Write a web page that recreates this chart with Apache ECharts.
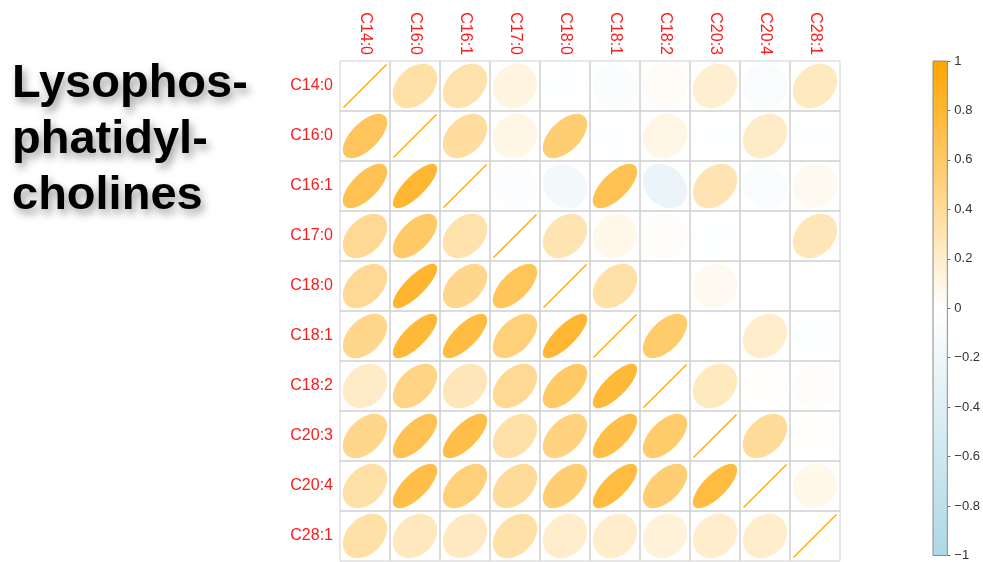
<!DOCTYPE html>
<html>
<head>
<meta charset="utf-8">
<script src="https://cdn.jsdelivr.net/npm/echarts@6/dist/echarts.min.js"></script>
<style>
  html, body { margin: 0; padding: 0; background: #fff; }
  #chart { width: 983px; height: 562px; }
</style>
</head>
<body>
<div id="chart"></div>
<script>
// Lipid species (rows and columns of the correlation matrix)
const species = ['C14:0', 'C16:0', 'C16:1', 'C17:0', 'C18:0', 'C18:1', 'C18:2', 'C20:3', 'C20:4', 'C28:1'];

// Correlation coefficients, one array per row (row species vs. each column species)
const rowC14_0 = [1.00, 0.35, 0.33, 0.12, -0.02, -0.06, 0.03, 0.18, -0.07, 0.25];
const rowC16_0 = [0.64, 1.00, 0.38, 0.10, 0.55, -0.03, 0.10, -0.02, 0.22, -0.01];
const rowC16_1 = [0.68, 0.80, 1.00, -0.05, -0.15, 0.68, -0.25, 0.30, -0.08, 0.06];
const rowC17_0 = [0.42, 0.60, 0.33, 1.00, 0.30, 0.08, 0.02, -0.02, 0.00, 0.28];
const rowC18_0 = [0.42, 0.82, 0.45, 0.65, 1.00, 0.35, 0.00, 0.06, 0.00, 0.00];
const rowC18_1 = [0.45, 0.78, 0.75, 0.52, 0.80, 1.00, 0.58, 0.00, 0.20, -0.03];
const rowC18_2 = [0.22, 0.48, 0.28, 0.42, 0.60, 0.78, 1.00, 0.25, 0.01, 0.02];
const rowC20_3 = [0.45, 0.68, 0.72, 0.35, 0.50, 0.72, 0.58, 1.00, 0.40, 0.01];
const rowC20_4 = [0.35, 0.72, 0.52, 0.40, 0.55, 0.75, 0.55, 0.75, 1.00, 0.08];
const rowC28_1 = [0.35, 0.26, 0.24, 0.35, 0.20, 0.20, 0.15, 0.20, 0.20, 1.00];

const corrRows = [rowC14_0, rowC16_0, rowC16_1, rowC17_0, rowC18_0, rowC18_1, rowC18_2, rowC20_3, rowC20_4, rowC28_1];

// Colour legend tick values
const legendMin = -1;
const legendMax = 1;
const legendStep = 0.2;

const NEG_COLOR = '#ADD8E6';
const MID_COLOR = '#FFFFFF';
const POS_COLOR = '#FFA500';

const cells = [];
corrRows.forEach((row, ri) => {
  row.forEach((r, ci) => cells.push([ci, ri, r]));
});

// Ellipse whose shape encodes the correlation: a circle at 0, a line at ±1
function ellipsePoints(cx, cy, size, r) {
  const rho = Math.max(-1, Math.min(1, r));
  const d = Math.acos(rho);
  const pts = [];
  const n = 90;
  for (let k = 0; k < n; k++) {
    const t = (k / n) * Math.PI * 2;
    const x = Math.cos(t + d / 2) / 2;
    const y = Math.cos(t - d / 2) / 2;
    pts.push([cx + x * size, cy - y * size]);
  }
  return pts;
}

function renderCell(params, api) {
  const c = api.coord([api.value(0), api.value(1)]);
  const sz = api.size([1, 1]);
  const color = api.visual('color');
  const r = api.value(2);
  const s = sz[0] * 0.86;
  return {
    type: 'group',
    children: [
      {
        type: 'rect',
        shape: { x: c[0] - sz[0] / 2, y: c[1] - sz[1] / 2, width: sz[0], height: sz[1] },
        style: { fill: 'none', stroke: '#d0d0d0', lineWidth: 1 }
      },
      {
        type: 'polygon',
        shape: { points: ellipsePoints(c[0], c[1], s, r) },
        style: { fill: color, stroke: color, lineWidth: 1.3 }
      }
    ]
  };
}

function renderLegendBar(params, api) {
  const cs = params.coordSys;
  return {
    type: 'rect',
    shape: { x: cs.x, y: cs.y, width: cs.width, height: cs.height },
    style: {
      fill: new echarts.graphic.LinearGradient(0, 0, 0, 1, [
        { offset: 0, color: POS_COLOR },
        { offset: 0.5, color: MID_COLOR },
        { offset: 1, color: NEG_COLOR }
      ]),
      stroke: '#8a8a8a',
      lineWidth: 1
    }
  };
}

const chart = echarts.init(document.getElementById('chart'), null, { renderer: 'canvas' });

chart.setOption({
  backgroundColor: '#ffffff',
  animation: false,
  textStyle: { fontFamily: 'Liberation Sans, Arial, sans-serif' },
  grid: [
    { left: 340, top: 61, width: 500, height: 500 },
    { left: 933, top: 61, width: 16, height: 499 }
  ],
  xAxis: [
    {
      gridIndex: 0,
      type: 'category',
      data: species,
      position: 'top',
      axisLine: { show: false },
      axisTick: { show: false },
      splitLine: { show: false },
      axisLabel: { rotate: 90, color: '#ff1a1a', fontSize: 16, margin: 6, interval: 0 }
    },
    { gridIndex: 1, type: 'category', data: ['bar'], show: false }
  ],
  yAxis: [
    {
      gridIndex: 0,
      type: 'category',
      data: species,
      inverse: true,
      axisLine: { show: false },
      axisTick: { show: false },
      splitLine: { show: false },
      axisLabel: { color: '#ff1a1a', fontSize: 16, margin: 7, interval: 0 }
    },
    {
      gridIndex: 1,
      type: 'value',
      min: legendMin,
      max: legendMax,
      interval: legendStep,
      position: 'right',
      axisLine: { show: false },
      axisTick: { show: true, length: 3, lineStyle: { color: '#666' } },
      splitLine: { show: false },
      axisLabel: {
        color: '#333',
        fontSize: 13,
        margin: 7,
        formatter: v => {
          const n = Math.round(v * 10) / 10;
          return String(n).replace('-', '\u2212');
        }
      }
    }
  ],
  visualMap: {
    show: false,
    type: 'continuous',
    seriesIndex: 0,
    dimension: 2,
    min: legendMin,
    max: legendMax,
    inRange: { color: [NEG_COLOR, MID_COLOR, POS_COLOR] }
  },
  graphic: [
    {
      type: 'text',
      left: 12,
      top: 56,
      style: {
        text: 'Lysophos-\nphatidyl-\ncholines',
        font: 'bold 47px "Liberation Sans", Arial, sans-serif',
        lineHeight: 56,
        fill: '#000',
        textShadowColor: 'rgba(0,0,0,0.4)',
        textShadowBlur: 8,
        textShadowOffsetX: 3,
        textShadowOffsetY: 5
      }
    }
  ],
  series: [
    {
      type: 'custom',
      xAxisIndex: 0,
      yAxisIndex: 0,
      data: cells,
      renderItem: renderCell
    },
    {
      type: 'custom',
      xAxisIndex: 1,
      yAxisIndex: 1,
      data: [[0, 0]],
      renderItem: renderLegendBar,
      silent: true
    }
  ]
});
</script>
</body>
</html>
